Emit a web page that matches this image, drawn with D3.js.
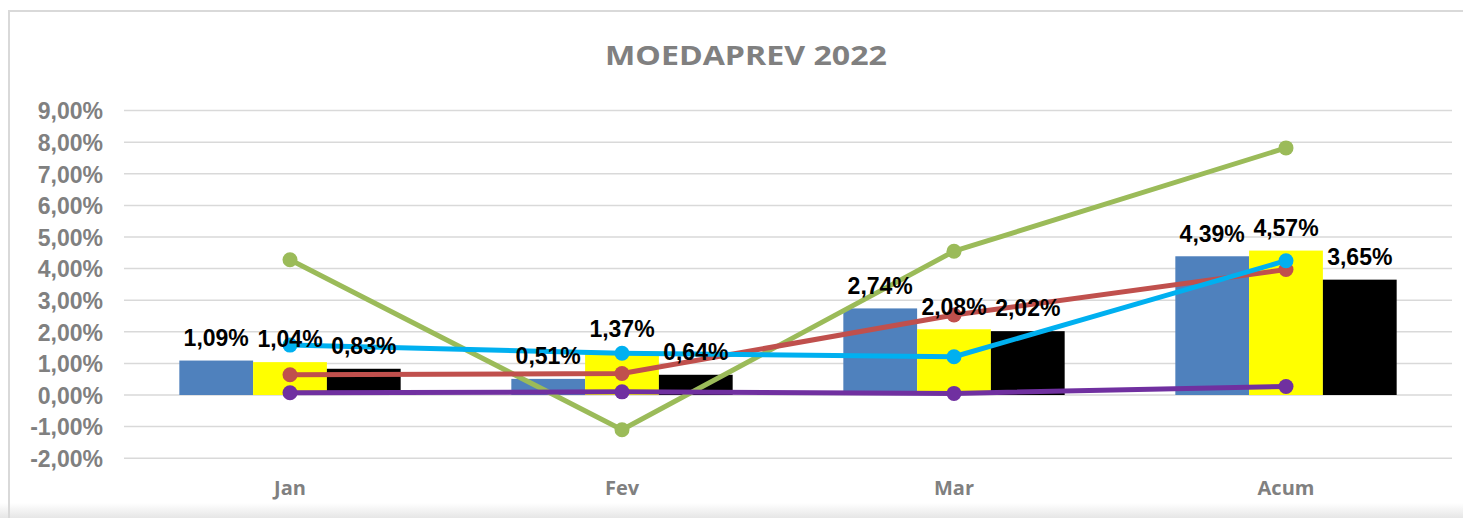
<!DOCTYPE html>
<html>
<head>
<meta charset="utf-8">
<script src="https://cdn.jsdelivr.net/npm/d3@7"></script>
<style>
  html, body { margin: 0; padding: 0; background: #ffffff; }
  svg { display: block; }
</style>
</head>
<body>
<svg id="chart" width="1463" height="518"></svg>
<script>
// ---- data ----
const categories = ["Jan", "Fev", "Mar", "Acum"];
const barSeriesNames = ["Blue", "Yellow", "Black"];
const barBlue   = [1.09, 0.51, 2.74, 4.39];
const barYellow = [1.04, 1.37, 2.08, 4.57];
const barBlack  = [0.83, 0.64, 2.02, 3.65];
const lineGreen  = [4.28, -1.10, 4.55, 7.82];
const lineRed    = [0.64, 0.68, 2.53, 3.97];
const lineCyan   = [1.58, 1.32, 1.21, 4.25];
const linePurple = [0.07, 0.10, 0.05, 0.27];
const yTicks = [-2, -1, 0, 1, 2, 3, 4, 5, 6, 7, 8, 9];
const titleText = "MOEDAPREV 2022";

// ---- setup ----
const svg = d3.select("#chart");
const W = 1463, H = 518;

// bottom shade
const defs = svg.append("defs");
const grad = defs.append("linearGradient").attr("id", "shade").attr("x1", 0).attr("y1", 0).attr("x2", 0).attr("y2", 1);
grad.append("stop").attr("offset", "0%").attr("stop-color", "#ffffff");
grad.append("stop").attr("offset", "100%").attr("stop-color", "#e6e6e6");
svg.append("rect").attr("x", 0).attr("y", 0).attr("width", W).attr("height", H).attr("fill", "#ffffff");
svg.append("rect").attr("x", 0).attr("y", 503).attr("width", W).attr("height", 15).attr("fill", "url(#shade)");

// chart border
svg.append("path")
  .attr("d", `M9,${H} L9,11 L${W},11`)
  .attr("fill", "none").attr("stroke", "#d9d9d9").attr("stroke-width", 2);

const x = d3.scaleBand().domain(categories).range([124, 1452]).paddingInner(0).paddingOuter(0);
const y = d3.scaleLinear().domain([-2, 9]).range([458.2, 110.6]);
const xb = d3.scaleBand().domain(barSeriesNames).range([x.bandwidth() / 6, x.bandwidth() * 5 / 6]).padding(0);

// title
svg.append("text")
  .attr("x", 746).attr("y", 65)
  .attr("text-anchor", "middle")
  .attr("font-family", "'Open Sans', sans-serif")
  .attr("font-weight", "bold")
  .attr("font-size", 27)
  .attr("textLength", 282)
  .attr("lengthAdjust", "spacingAndGlyphs")
  .attr("fill", "#808080")
  .text(titleText);

// gridlines
svg.append("g").selectAll("line").data(yTicks).join("line")
  .attr("x1", 124).attr("x2", 1452)
  .attr("y1", d => y(d)).attr("y2", d => y(d))
  .attr("stroke", "#d9d9d9").attr("stroke-width", 1.5);

// y axis
const fmt = v => v.toFixed(2).replace(".", ",") + "%";
const yAxis = d3.axisLeft(y).tickValues(yTicks).tickSize(0).tickPadding(0).tickFormat(fmt);
const gy = svg.append("g").attr("transform", "translate(103,0)").call(yAxis);
gy.select(".domain").remove();
gy.selectAll("text")
  .attr("font-family", "Arial, 'Liberation Sans', sans-serif")
  .attr("font-weight", "bold")
  .attr("font-size", 23)
  .attr("fill", "#808080")
  .attr("dy", "0.36em");

// x axis labels
const xAxis = d3.axisBottom(x).tickSize(0).tickPadding(0);
const gx = svg.append("g").attr("transform", "translate(0,481)").call(xAxis);
gx.select(".domain").remove();
gx.selectAll("text")
  .attr("font-family", "'Open Sans', sans-serif")
  .attr("font-weight", "bold")
  .attr("font-size", 20)
  .attr("fill", "#808080")
  .attr("dy", "0.71em");

// bars
const barSets = [
  { name: "Blue", values: barBlue, color: "#4f81bd" },
  { name: "Yellow", values: barYellow, color: "#ffff00" },
  { name: "Black", values: barBlack, color: "#000000" }
];
const gb = svg.append("g");
barSets.forEach(s => {
  gb.selectAll(null).data(s.values).join("rect")
    .attr("x", (d, i) => x(categories[i]) + xb(s.name))
    .attr("width", xb.bandwidth())
    .attr("y", d => y(Math.max(0, d)))
    .attr("height", d => Math.abs(y(d) - y(0)))
    .attr("fill", s.color);
});

// lines
const lineSets = [
  { values: lineGreen, color: "#9bbb59" },
  { values: lineRed, color: "#c0504d" },
  { values: lineCyan, color: "#00b0f0" },
  { values: linePurple, color: "#7030a0" }
];
const cx = i => x(categories[i]) + x.bandwidth() / 2;
const lineGen = d3.line().x((d, i) => cx(i)).y(d => y(d));
lineSets.forEach(s => {
  const g = svg.append("g");
  g.append("path").datum(s.values)
    .attr("d", lineGen)
    .attr("fill", "none")
    .attr("stroke", s.color)
    .attr("stroke-width", 5)
    .attr("stroke-linejoin", "round");
  g.selectAll("circle").data(s.values).join("circle")
    .attr("cx", (d, i) => cx(i))
    .attr("cy", d => y(d))
    .attr("r", 7.5)
    .attr("fill", s.color);
});

// bar data labels
const gl = svg.append("g");
barSets.forEach(s => {
  gl.selectAll(null).data(s.values).join("text")
    .attr("x", (d, i) => x(categories[i]) + xb(s.name) + xb.bandwidth() / 2)
    .attr("y", d => y(Math.max(0, d)) - 23)
    .attr("dy", "0.36em")
    .attr("text-anchor", "middle")
    .attr("font-family", "Arial, 'Liberation Sans', sans-serif")
    .attr("font-weight", "bold")
    .attr("font-size", 23)
    .attr("fill", "#000000")
    .text(d => fmt(d));
});
</script>
</body>
</html>
